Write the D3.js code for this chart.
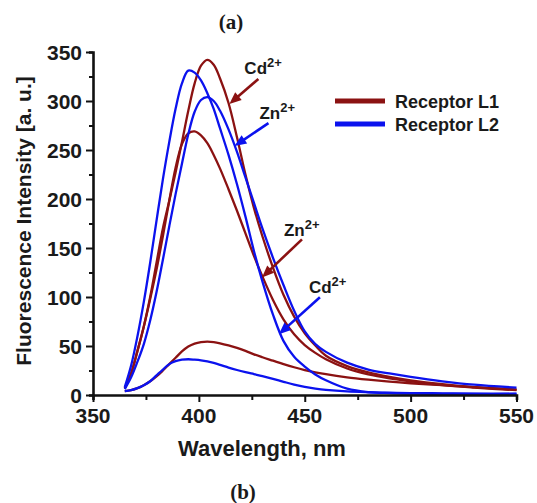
<!DOCTYPE html>
<meta charset="utf-8">
<style>
body { margin: 0; background: #fff; }
text { font-family: "Liberation Sans", Arial, sans-serif; font-weight: bold; fill: #1a1a1a; }
.tick-label { font-size: 21px; }
.axis-title { font-size: 22px; }
.y-title { font-size: 21px; }
.legend text { font-size: 18px; }
.note { font-size: 17px; }
.note tspan.sup { font-size: 13px; }
</style>
<svg width="537" height="503"></svg>
<script src="https://cdn.jsdelivr.net/npm/d3@7"></script>
<script>

// wavelength grid (nm) shared by all spectra
var wavelength = [365, 368, 371, 374, 377, 380, 383, 386, 389, 392, 395, 398, 401, 404, 407, 410,
                  414, 418, 422, 426, 430, 435, 440, 445, 450, 455, 460, 470, 480, 490, 500, 515, 530, 550];

// Receptor L1 (free, + Zn2+, + Cd2+)
var l1Free = [4, 5, 7, 10, 14, 19, 25, 31.5, 38, 44.5, 49.5, 52.5, 54, 54.5, 54, 52.8,
              50.6, 48, 45, 41.5, 38.5, 35, 31.5, 28.3, 25.5, 23.2, 21.2, 18, 15.6, 13.6, 12, 10, 8, 5.5];
var l1Zn = [7, 22, 45, 70, 98, 128, 162, 198, 232, 256, 267, 269, 265, 257, 245, 231,
            210, 188, 165, 142, 121, 97, 77, 62, 51, 43, 36.5, 27, 21, 17, 14, 10, 7.5, 5];
var l1Cd = [7, 22, 45, 70, 100, 135, 170, 198, 227, 258, 290, 318, 336, 342, 337, 323,
            298, 263, 225, 191, 162, 130, 102, 80, 63, 50.5, 40, 29.5, 23, 18.5, 15, 11, 8, 5.5];

// Receptor L2 (free, + Zn2+, + Cd2+)
var l2Free = [4, 5, 7, 10, 14, 20, 26, 31.5, 34.5, 36, 36.5, 36, 35.3, 34.2, 32.7, 30.8,
              28, 25.5, 23.3, 21.3, 19.3, 16.5, 13.5, 10.6, 8.2, 6.5, 5.2, 3.6, 2.8, 2.3, 2, 1.7, 1.5, 1.3];
var l2Zn = [6, 18, 34, 52, 76, 105, 138, 172, 205, 236, 266, 289, 301, 304, 300, 290,
            271, 248, 222, 196, 170, 140, 112, 86, 65, 52, 44, 33, 26, 22, 18.5, 14, 10.5, 7.5];
var l2Cd = [8, 30, 60, 95, 135, 178, 220, 258, 292, 318, 331, 329, 321, 308, 292, 272,
            245, 215, 182, 147, 116, 82, 55, 39, 29, 21, 15, 6.5, 3, 2, 1.5, 1.2, 1, 1];

var seriesNames = ["Receptor L1", "Receptor L2"];
var seriesColors = ["#8b1212", "#0b12ee"];

var xTicks = [350, 400, 450, 500, 550];
var yTicks = [0, 50, 100, 150, 200, 250, 300, 350];

// arrow notes: tip on a curve in data units, tail / label offset in px
var notes = [
  {ion: "Cd", series: 0, tip: [414.4, 297], tail: [29, -25], label: [15, -30]},
  {ion: "Zn", series: 1, tip: [416.8, 254], tail: [34, -23], label: [25, -27]},
  {ion: "Zn", series: 0, tip: [429.8, 120], tail: [40, -38], label: [22, -41]},
  {ion: "Cd", series: 1, tip: [437.8, 62], tail: [41, -37], label: [30, -41]}
];

var curves = [
  {s: 0, v: l1Free}, {s: 0, v: l1Zn}, {s: 0, v: l1Cd},
  {s: 1, v: l2Free}, {s: 1, v: l2Zn}, {s: 1, v: l2Cd}
];

var svg = d3.select("svg");

var x = d3.scaleLinear().domain([350, 550]).range([93, 516.5]);
var y = d3.scaleLinear().domain([0, 350]).range([395, 52]);

// curves
var line = d3.line()
    .x(function(d) { return x(d[0]); })
    .y(function(d) { return y(d[1]); })
    .curve(d3.curveCatmullRom.alpha(0.5));

svg.append("g").selectAll("path")
    .data(curves)
  .enter().append("path")
    .attr("fill", "none")
    .attr("stroke", function(d) { return seriesColors[d.s]; })
    .attr("stroke-width", 2.3)
    .attr("d", function(d) { return line(d3.zip(wavelength, d.v)); });

// axes
var xAxis = svg.append("g").attr("transform", "translate(0," + y(0) + ")")
    .call(d3.axisBottom(x).tickValues(d3.range(350, 551, 25)).tickSize(5).tickFormat(""));
var yAxis = svg.append("g").attr("transform", "translate(" + x(350) + ",0)")
    .call(d3.axisLeft(y).tickValues(d3.range(0, 351, 25)).tickSize(4).tickFormat(""));

[xAxis, yAxis].forEach(function(g) {
  g.select(".domain").attr("stroke", "#111").attr("stroke-width", 2.6);
  g.selectAll(".tick line").attr("stroke", "#111").attr("stroke-width", 2);
});
xAxis.selectAll(".tick line").filter(function(d) { return d % 50 === 0; }).attr("y2", 7);
yAxis.selectAll(".tick line").filter(function(d) { return d % 50 === 0; }).attr("x2", -7);

svg.append("g").selectAll("text")
    .data(xTicks)
  .enter().append("text")
    .attr("class", "tick-label")
    .attr("x", function(d) { return x(d); })
    .attr("y", y(0) + 28)
    .attr("text-anchor", "middle")
    .text(function(d) { return d; });

svg.append("g").selectAll("text")
    .data(yTicks)
  .enter().append("text")
    .attr("class", "tick-label")
    .attr("x", x(350) - 11)
    .attr("y", function(d) { return y(d) + 7.5; })
    .attr("text-anchor", "end")
    .text(function(d) { return d; });

svg.append("text")
    .attr("class", "axis-title")
    .attr("x", 262)
    .attr("y", 456)
    .attr("text-anchor", "middle")
    .text("Wavelength, nm");

svg.append("text")
    .attr("class", "axis-title y-title")
    .attr("transform", "translate(31,221) rotate(-90)")
    .attr("text-anchor", "middle")
    .text("Fluorescence Intensity [a. u.]");

// panel letters
[["(a)", 231, 29], ["(b)", 243, 499]].forEach(function(p) {
  svg.append("text")
      .attr("x", p[1]).attr("y", p[2])
      .attr("text-anchor", "middle")
      .style("font-family", "'Liberation Serif', 'DejaVu Serif', serif")
      .style("font-size", "21px")
      .text(p[0]);
});

// legend
var legend = svg.append("g").attr("class", "legend")
  .selectAll("g")
    .data(seriesNames)
  .enter().append("g")
    .attr("transform", function(d, i) { return "translate(335," + (101 + i * 23) + ")"; });

legend.append("line")
    .attr("x1", 0).attr("x2", 50)
    .attr("stroke", function(d, i) { return seriesColors[i]; })
    .attr("stroke-width", 5);

legend.append("text")
    .attr("x", 60)
    .attr("y", 6.5)
    .text(function(d) { return d; });

// arrows with labels
var note = svg.append("g").selectAll("g")
    .data(notes)
  .enter().append("g")
    .attr("transform", function(d) { return "translate(" + x(d.tip[0]) + "," + y(d.tip[1]) + ")"; });

note.append("line")
    .attr("x1", function(d) { return d.tail[0]; })
    .attr("y1", function(d) { return d.tail[1]; })
    .attr("x2", function(d) { var l = Math.hypot(d.tail[0], d.tail[1]); return d.tail[0] * 8 / l; })
    .attr("y2", function(d) { var l = Math.hypot(d.tail[0], d.tail[1]); return d.tail[1] * 8 / l; })
    .attr("stroke", function(d) { return seriesColors[d.series]; })
    .attr("stroke-width", 2.6);

note.append("path")
    .attr("d", "M0,0L-12,-5L-12,5Z")
    .attr("fill", function(d) { return seriesColors[d.series]; })
    .attr("transform", function(d) {
      var a = Math.atan2(-d.tail[1], -d.tail[0]) * 180 / Math.PI;
      return "rotate(" + a + ")";
    });

var noteText = note.append("text")
    .attr("class", "note")
    .attr("x", function(d) { return d.label[0]; })
    .attr("y", function(d) { return d.label[1]; });
noteText.append("tspan").text(function(d) { return d.ion; });
noteText.append("tspan").attr("class", "sup").attr("dy", -7).text("2+");

</script>
